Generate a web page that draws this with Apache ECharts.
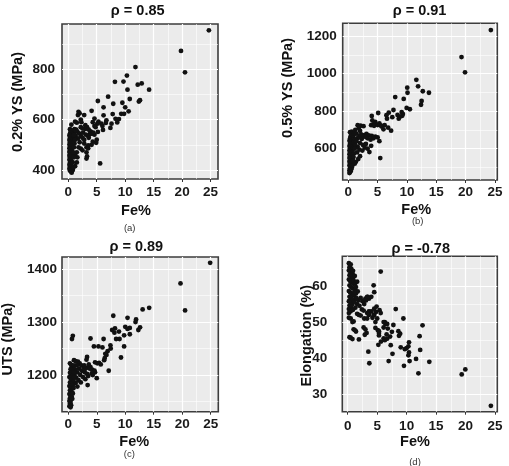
<!DOCTYPE html>
<html><head><meta charset="utf-8">
<script src="https://cdn.jsdelivr.net/npm/echarts@6/dist/echarts.min.js"></script>
<style>html,body{margin:0;padding:0;background:#fff}#c{width:509px;height:466px}</style>
</head><body><div id="c"></div>
<script>
const titles = ['ρ = 0.85', 'ρ = 0.91', 'ρ = 0.89', 'ρ = -0.78'];
const yNames = ['0.2% YS (MPa)', '0.5% YS (MPa)', 'UTS (MPa)', 'Elongation (%)'];
const xName = 'Fe%';
const captions = ['(a)', '(b)', '(c)', '(d)'];

const feTicks = [0, 5, 10, 15, 20, 25];
const feMinor = [2.5, 7.5, 12.5, 17.5, 22.5];
const yTicksA = [400, 600, 800];          const yMinorA = [500, 700, 900];
const yTicksB = [600, 800, 1000, 1200];   const yMinorB = [500, 700, 900, 1100];
const yTicksC = [1200, 1300, 1400];       const yMinorC = [1150, 1250, 1350];
const yTicksD = [30, 40, 50, 60];         const yMinorD = [35, 45, 55, 65];

// (a) Fe% vs 0.2% YS (MPa)
const dataA = [
[24.7,955],[19.8,873],[20.5,788],[11.8,809],[10.3,775],[8.2,750],[9.7,751],[12.9,744],[12.2,739],[10.4,719],[14.2,719],[7.0,691],[12.6,677],[12.4,672],[10.8,682],[5.2,674],[7.9,663],[9.5,667],[10.0,649],[6.2,649],[10.6,633],[9.3,623],[9.8,623],[4.1,635],[7.8,622],[8.9,602],[8.3,603],[6.2,617],[6.7,597],[6.6,587],[8.6,589],[7.6,584],[4.6,604],[5.3,592],[5.1,584],[5.8,584],[6.0,575],[6.1,559],[7.4,567],[4.3,590],[4.6,575],[4.8,570],[3.0,563],[4.0,550],[3.8,542],[4.6,540],[5.2,551],[3.5,535],[3.6,528],[5.6,426],[3.3,454],
[5.0,520],[4.9,508],[4.3,512],[4.1,500],[3.2,490],[3.5,486],
[1.8,631],[2.0,625],[1.7,618],[2.8,618],[1.2,592],[1.5,588],[2.2,600],[2.3,590],[0.55,580],[3.0,578],[3.3,570],[2.2,570],[2.5,565],[3.6,560],[3.9,553],[4.2,544],[4.4,548],[2.2,535],[2.5,528],[2.8,520],[2.0,510],[2.8,505],[3.5,498],[1.8,490],[2.2,485],[2.5,478],[3.2,470],[3.2,445],[1.6,450],[1.5,430],[1.2,415],[0.8,400],[0.6,395],[1.4,560],[1.6,552],[1.9,545],[1.3,535],[1.7,525],[1.1,505],[1.5,470],[1.2,460],[2.6,548],[3.1,540],
[0.3,562],[0.5,558],[0.7,556],[0.9,553],[0.4,551],[0.6,549],[0.8,547],[1.0,545],[0.3,544],[0.5,541],[0.7,539],[0.2,537],[0.4,534],[0.6,532],[0.9,529],[0.3,527],[0.5,524],[0.8,521],[0.2,519],[0.4,516],[0.6,513],[0.3,510],[0.5,507],[0.7,504],[0.2,501],[0.4,498],[0.6,495],[0.3,492],[0.5,489],[0.2,486],[0.4,483],[0.6,480],[0.3,477],[0.5,474],[0.2,471],[0.4,468],[0.7,465],[0.3,462],[0.5,459],[0.2,456],[0.4,453],[0.3,449],[0.5,445],[0.2,441],[0.4,437],[0.6,433],[0.3,429],[0.5,425],[0.2,421],[0.4,417],[0.3,413],[0.5,409],[0.2,405],[0.4,401],[0.3,397],[0.5,393],[0.6,389],[1.1,562],[1.3,556],[1.0,538],[1.2,520],[1.0,490],[0.9,470],[1.0,450],[0.8,430],[0.9,410]
];

// (b) Fe% vs 0.5% YS (MPa)
const dataB = [
[24.3,1232],[19.3,1088],[19.9,1007],[11.6,967],[10.05,925],[10.1,898],[11.9,932],[12.7,906],[13.75,898],[8.0,875],[9.45,865],[12.5,854],[12.4,834],[9.95,817],[10.5,810],[7.7,806],[6.9,792],[9.1,795],[9.3,785],[9.2,775],[5.1,790],[4.0,774],[6.5,778],[6.6,760],[7.5,768],[8.4,780],[8.8,770],[8.6,760],[4.6,742],[5.3,735],[5.6,722],[6.2,725],[7.3,696],[6.8,712],[4.1,750],[4.4,730],[5.7,718],[6.0,703],[5.45,550],
[1.6,725],[2.1,722],[2.6,720],[1.8,710],[1.2,700],[2.0,695],[3.9,725],[4.4,722],[5.0,726],[0.6,690],[1.0,684],[1.4,680],[2.2,676],[2.7,672],[3.1,678],[3.5,670],[4.0,668],[4.6,664],[5.0,660],[3.0,662],[2.4,665],[1.9,668],[1.6,656],[2.3,652],[3.3,655],[3.8,648],[4.3,655],[5.3,640],[2.0,630],[2.5,620],[3.0,625],[3.9,615],[2.8,605],[3.3,600],[2.4,590],[3.6,582],[1.6,610],[1.9,595],[1.5,580],[2.0,560],[1.7,545],[1.3,530],[1.1,520],
[0.3,688],[0.5,680],[0.7,675],[0.9,670],[0.4,666],[0.6,662],[0.8,658],[0.3,654],[0.5,650],[0.7,646],[0.2,642],[0.4,638],[0.6,634],[0.9,630],[0.3,626],[0.5,622],[0.8,618],[0.2,614],[0.4,610],[0.6,606],[0.3,602],[0.5,598],[0.7,594],[0.2,590],[0.4,586],[0.6,582],[0.3,578],[0.5,574],[0.2,570],[0.4,566],[0.6,562],[0.3,558],[0.5,554],[0.2,550],[0.4,546],[0.7,542],[0.3,538],[0.5,534],[0.2,530],[0.4,526],[0.3,520],[0.5,515],[0.2,510],[0.4,505],[0.6,500],[0.3,495],[0.5,490],[0.2,485],[0.4,480],[0.3,475],[0.2,470],[1.0,640],[1.2,620],[1.1,600],[1.0,575],[0.9,555],[0.8,535],[0.7,510],[1.2,650],[1.4,640]
];

// (c) Fe% vs UTS (MPa)
const dataC = [
[24.9,1412],[19.7,1373],[20.5,1322],[14.2,1327],[13.05,1324],[7.9,1312],[10.4,1308],[11.9,1305],[11.8,1300],[10.0,1291],[10.4,1287],[10.8,1289],[8.2,1288],[8.1,1280],[8.9,1282],[9.8,1275],[12.6,1290],[12.3,1285],[10.8,1277],[7.7,1285],[0.8,1274],[0.65,1268],[3.9,1269],[6.2,1268],[8.4,1268],[9.0,1268],[5.3,1254],[4.5,1254],[6.0,1252],[7.4,1256],[7.45,1250],[9.8,1254],[6.9,1245],[6.7,1238],[6.4,1232],[6.3,1228],[9.25,1233],[7.1,1208],[5.4,1223],[5.7,1220],[5.0,1194],[4.3,1200],[4.7,1205],[3.4,1181],[3.9,1215],[3.3,1234],[3.2,1229],[6.5,1240],[4.7,1224],[5.1,1222],[3.5,1198],
[1.0,1228],[1.3,1226],[1.7,1225],[2.0,1222],[2.3,1218],[2.7,1215],[3.0,1212],[3.4,1214],[3.8,1212],[4.2,1210],[4.6,1208],[1.5,1218],[1.9,1212],[2.4,1208],[2.9,1205],[3.3,1202],[1.2,1210],[1.6,1205],[2.1,1200],[2.6,1196],[3.0,1192],[1.1,1200],[1.4,1195],[1.8,1190],[2.2,1186],[1.3,1185],[1.6,1178],[2.8,1218],[3.6,1220],[4.1,1203],
[0.3,1222],[0.5,1219],[0.7,1216],[0.9,1214],[0.4,1211],[0.6,1209],[0.8,1206],[0.3,1204],[0.5,1201],[0.7,1199],[0.2,1196],[0.4,1194],[0.6,1191],[0.9,1189],[0.3,1186],[0.5,1184],[0.8,1181],[0.2,1179],[0.4,1176],[0.6,1174],[0.3,1171],[0.5,1169],[0.7,1166],[0.2,1164],[0.4,1161],[0.6,1159],[0.3,1156],[0.5,1154],[0.2,1151],[0.4,1149],[0.3,1146],[0.5,1143],[0.2,1141],[0.4,1139],[1.0,1205],[1.1,1195],[0.9,1175],[0.8,1165],[1.0,1218],[0.7,1155]
];

// (d) Fe% vs Elongation (%)
const dataD = [
[24.3,26.8],[19.35,35.5],[19.96,36.9],[12.0,35.8],[9.55,37.9],[13.85,39.0],[11.6,39.8],[6.95,39.2],[3.67,38.6],[3.5,41.8],[7.6,41.2],[10.5,39.2],[10.3,43.3],[10.0,42.8],[9.7,42.5],[10.4,41.6],[12.3,42.3],[10.3,40.8],[5.2,43.7],[7.3,43.6],[9.0,43.0],[12.2,46.1],[12.7,49.1],[10.4,44.4],[7.75,49.2],[9.45,51.0],[8.15,53.6],[5.6,64.0],[8.6,47.5],[8.9,46.8],[8.7,46.2],[7.5,47.3],[7.2,46.0],[6.6,46.6],[6.1,48.5],[6.4,49.5],[6.8,48.2],[6.3,50.0],[6.3,45.0],[5.3,46.3],[5.1,47.8],[5.3,47.0],[4.7,50.0],[5.0,51.0],[4.2,51.2],[4.5,52.0],[4.8,52.8],[5.4,53.3],[5.6,52.5],[4.9,54.3],[4.4,60.2],[4.5,58.3],[4.0,57.0],[3.6,56.5],[3.4,57.0],[5.65,44.6],[6.1,45.5],[6.7,45.4],
[3.0,56.5],[3.3,57.0],[1.4,56.7],[1.8,56.0],[2.2,56.7],[2.8,55.0],[4.5,53.7],[3.3,52.5],[3.6,53.0],[3.7,52.8],[1.6,52.3],[1.9,52.0],[2.2,51.8],[2.8,51.0],[0.2,52.5],[0.5,51.0],[0.2,51.2],[0.8,50.0],[1.0,50.2],[6.1,50.0],[6.7,49.5],[1.0,48.0],[1.4,47.4],[1.2,47.8],[2.7,48.5],[3.0,48.0],[3.2,47.0],[2.9,46.5],[4.7,48.4],[5.3,47.5],[0.5,45.7],[0.8,45.3],[0.3,45.8],[1.9,45.2],[4.0,53.0],[4.4,52.0],[3.6,52.0],[3.3,51.0],[2.5,55.8],[3.1,56.0],[2.4,53.5],[1.3,54.0],[1.6,55.0],[2.0,54.5],[2.7,53.2],
[0.2,66.3],[0.4,65.8],[0.3,65.2],[0.6,64.8],[0.2,64.3],[0.5,63.9],[0.8,63.5],[0.3,63.0],[0.6,62.6],[0.9,62.2],[0.2,61.8],[0.4,61.4],[0.7,61.0],[1.0,60.6],[0.3,60.2],[0.5,59.8],[0.8,59.4],[1.2,59.0],[0.2,58.6],[0.4,58.2],[0.7,57.8],[1.0,57.4],[1.4,57.9],[0.3,57.0],[0.6,56.6],[0.9,56.2],[0.2,55.8],[0.5,55.4],[0.8,55.0],[1.1,55.6],[0.3,54.6],[0.6,54.2],[0.2,53.6],[0.5,53.0],[0.9,53.4],[1.0,61.5],[1.3,60.8],[1.6,61.2],[1.4,59.7],[1.7,58.5],[1.2,62.8],[0.9,64.2],[0.5,66.0],[1.1,58.3],[1.5,56.6]
];

const panelData = [dataA, dataB, dataC, dataD];
const yTicks = [yTicksA, yTicksB, yTicksC, yTicksD];
const yMinor = [yMinorA, yMinorB, yMinorC, yMinorD];

// layout (pixel positions) kept separate from data
const layout = [
  {left:62,    top:24,    width:156,   height:155,   xr:[-1.1,26.3],  yr:[364,980],    yStep:200, xm:6, ym:7,
   title:[137.7,10.7], xt:[136,210.7],   yt:[18.3,102],   cap:[129.7,228]},
  {left:342.7, top:23.3,  width:154.6, height:156.7, xr:[-0.95,25.4], yr:[433,1268],   yStep:200, xm:5, ym:6,
   title:[419.5,10.7], xt:[416.2,210],   yt:[288.3,88],   cap:[417.7,221]},
  {left:62,    top:257,   width:156.3, height:154.7, xr:[-1.1,26.33], yr:[1130.6,1423], yStep:100, xm:6, ym:5,
   title:[136.3,246.7], xt:[134.2,442], yt:[7.5,339.2],  cap:[129.3,454]},
  {left:342.3, top:256.3, width:155,   height:155.4, xr:[-0.92,25.39],yr:[25.18,68.23], yStep:10,  xm:7.5, ym:15,
   title:[420.7,249],  xt:[415,441.7],   yt:[306.7,335.7], cap:[415,462.5]}
];

const FONT = '"Liberation Sans", Arial, sans-serif';
const isMult = (v, s) => Math.abs(v / s - Math.round(v / s)) < 1e-6;

const grids = [], xAxes = [], yAxes = [], series = [], graphics = [];
layout.forEach((L, i) => {
  grids.push({left:L.left, top:L.top, width:L.width, height:L.height, show:true,
    backgroundColor:'#EBEBEB', borderColor:'#3d3d3d', borderWidth:1.6, containLabel:false});
  xAxes.push({type:'value', gridIndex:i, min:L.xr[0], max:L.xr[1], minInterval:5, maxInterval:5,
    axisLine:{show:false}, splitLine:{show:false},
    axisTick:{show:true, length:3, lineStyle:{color:'#333', width:1}, customValues:feTicks},
    axisLabel:{customValues:feTicks, margin:L.xm, color:'#1a1a1a', fontWeight:'bold', fontSize:13.5, fontFamily:FONT,
      formatter:v => isMult(v,5) ? String(v) : ''}});
  yAxes.push({type:'value', gridIndex:i, min:L.yr[0], max:L.yr[1], minInterval:L.yStep, maxInterval:L.yStep,
    axisLine:{show:false}, splitLine:{show:false},
    axisTick:{show:true, length:3, lineStyle:{color:'#333', width:1}, customValues:yTicks[i]},
    axisLabel:{customValues:yTicks[i], margin:L.ym, color:'#1a1a1a', fontWeight:'bold', fontSize:13.5, fontFamily:FONT,
      formatter:v => isMult(v,L.yStep) ? String(v) : ''}});
  const lines = [];
  feMinor.forEach(v => lines.push({xAxis:v, lineStyle:{width:0.6}}));
  yMinor[i].forEach(v => lines.push({yAxis:v, lineStyle:{width:0.6}}));
  feTicks.forEach(v => lines.push({xAxis:v, lineStyle:{width:1.2}}));
  yTicks[i].forEach(v => lines.push({yAxis:v, lineStyle:{width:1.2}}));
  series.push({type:'scatter', xAxisIndex:i, yAxisIndex:i, data:[], z:1, silent:true,
    markLine:{silent:true, z:1, zlevel:0, symbol:['none','none'], label:{show:false}, animation:false,
      lineStyle:{color:'#ffffff', type:'solid', opacity:1}, emphasis:{disabled:true}, data:lines}});
  series.push({type:'scatter', xAxisIndex:i, yAxisIndex:i, data:panelData[i], z:6,
    symbolSize:4.8, itemStyle:{color:'#111', opacity:1}, silent:true});

  const txt = (pos, text, font, rot, fill) => graphics.push({type:'text', x:pos[0], y:pos[1], rotation:rot||0,
    style:{text:text, font:font, fill:fill||'#111', align:'center', verticalAlign:'middle',
      textAlign:'center', textVerticalAlign:'middle'}});
  txt(L.title, titles[i], 'bold 14.5px ' + FONT);
  txt(L.xt, xName, 'bold 14.5px ' + FONT);
  txt(L.yt, yNames[i], 'bold 14.5px ' + FONT, Math.PI / 2);
  txt(L.cap, captions[i], '9.5px ' + FONT, 0, '#333');
});

const chart = echarts.init(document.getElementById('c'), null, {renderer:'canvas'});
chart.setOption({animation:false, backgroundColor:'#fff', grid:grids, xAxis:xAxes, yAxis:yAxes, series:series, graphic:graphics});
</script></body></html>
